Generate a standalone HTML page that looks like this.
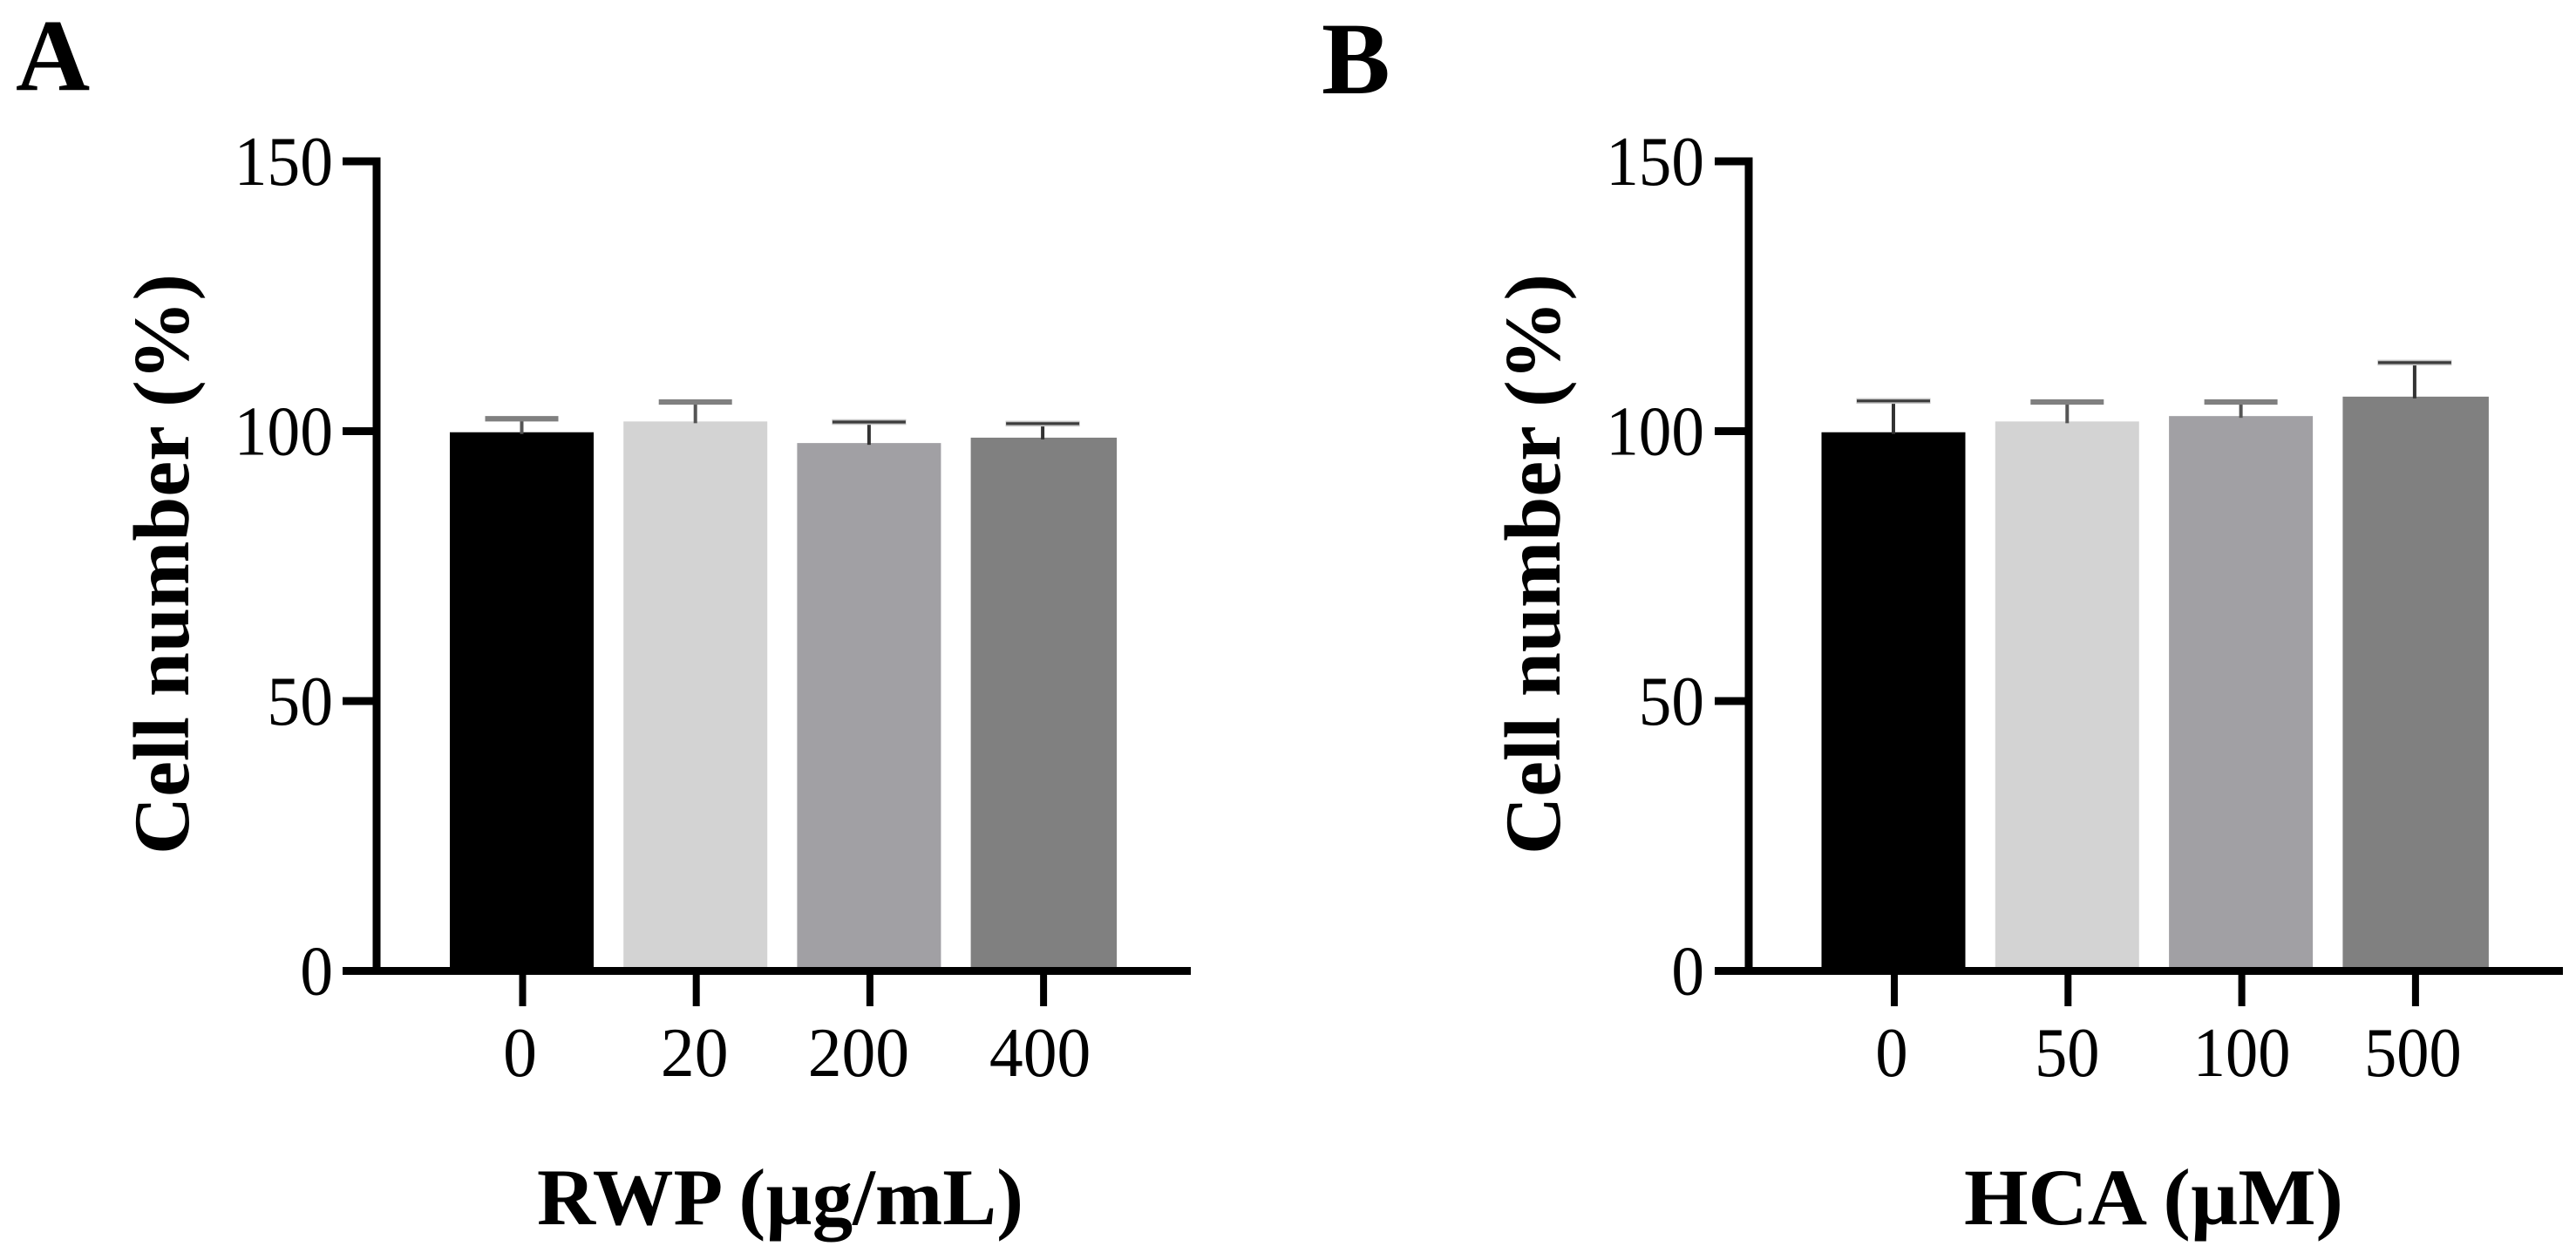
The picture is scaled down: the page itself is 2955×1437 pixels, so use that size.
<!DOCTYPE html>
<html lang="en">
<head>
<meta charset="utf-8">
<title>Cell number bar charts</title>
<style>
  html, body { margin: 0; padding: 0; background: #fff; }
  svg { display: block; font-family: "Liberation Serif", serif; }
  .tick-label { font-size: 80px; fill: #000; }
  .axis-title { font-size: 91px; font-weight: bold; fill: #000; }
  .x-title { font-size: 92px; }
  .panel-letter { font-size: 118px; font-weight: bold; fill: #000; }
</style>
</head>
<body>
<svg id="figure" xmlns="http://www.w3.org/2000/svg" width="2955" height="1437" viewBox="0 0 2955 1437">
  <rect x="0" y="0" width="2955" height="1437" fill="#fff"/>
  <text class="panel-letter" x="18" y="103">A</text>
  <text class="panel-letter" x="1516" y="107">B</text>
  <g id="panel-a">
    <text class="axis-title" transform="translate(216,647) rotate(-90)" text-anchor="middle" textLength="666" lengthAdjust="spacingAndGlyphs">Cell number (%)</text>
    <text class="axis-title x-title" x="895" y="1404" text-anchor="middle" textLength="558" lengthAdjust="spacingAndGlyphs">RWP (µg/mL)</text>
  </g>
  <g id="panel-b">
    <text class="axis-title" transform="translate(1789,647) rotate(-90)" text-anchor="middle" textLength="666" lengthAdjust="spacingAndGlyphs">Cell number (%)</text>
    <text class="axis-title x-title" x="2470.5" y="1404" text-anchor="middle" textLength="435" lengthAdjust="spacingAndGlyphs">HCA (µM)</text>
  </g>
</svg>
<script>
// Chart data
const yTickValues = [0, 50, 100, 150];
const categoriesA = ["0", "20", "200", "400"];
const valuesA = [99.8, 101.8, 97.8, 98.8];
const errorTopsA = [102.3, 105.4, 101.7, 101.4];
const categoriesB = ["0", "50", "100", "500"];
const valuesB = [99.8, 101.8, 102.8, 106.4];
const errorTopsB = [105.6, 105.4, 105.4, 112.7];
const barColors = ["#000000", "#d3d3d3", "#a1a0a4", "#808080"];

// Layout (geometry only)
const layoutA = {
  key: "panel-a", axisX: 432, tickLeft: 393, axisRight: 1366,
  firstCenter: 598.5, step: 199.2, barWidth: 165, lastBarExtra: 2.5,
  yLabelX: 382, yLabelScale: 0.945, xLabelScale: 0.97, labelNudge: [-3, -2, -13, -4],
  capStyles: ["soft", "soft", "sharp", "sharp"]
};
const layoutB = {
  key: "panel-b", axisX: 2006, tickLeft: 1967, axisRight: 2940,
  firstCenter: 2172, step: 199.3, barWidth: 165, lastBarExtra: 2.5,
  yLabelX: 1955, yLabelScale: 0.94, xLabelScale: 0.93, labelNudge: [-3, -1, 0, -3],
  capStyles: ["sharp", "soft", "soft", "sharp"]
};

const Y_ZERO = 1113.5;
const Y_PER_UNIT = 6.19;
const AXIS_WIDTH = 9;
const SVG_NS = "http://www.w3.org/2000/svg";

function yScale(v) { return Y_ZERO - v * Y_PER_UNIT; }
function xScale(layout, i) { return layout.firstCenter + i * layout.step; }

function make(tag, attrs, parent) {
  const node = document.createElementNS(SVG_NS, tag);
  for (const k in attrs) node.setAttribute(k, attrs[k]);
  parent.appendChild(node);
  return node;
}

function drawPanel(layout, categories, values, errorTops) {
  const root = document.getElementById(layout.key);
  const yMax = yTickValues[yTickValues.length - 1];

  values.forEach(function (v, i) {
    const cx = xScale(layout, i);
    const extra = i === values.length - 1 ? layout.lastBarExtra : 0;
    const bar = make("rect", {
      x: cx - layout.barWidth / 2, y: yScale(v),
      width: layout.barWidth + extra, height: Y_ZERO - yScale(v),
      fill: barColors[i]
    }, root);
    
    

    const top = yScale(errorTops[i]);
    const soft = layout.capStyles[i] === "soft";
    const stem = make("line", {
      x1: cx, x2: cx, y1: yScale(v) + 2, y2: top,
      stroke: soft ? "#555" : "#333", "stroke-width": 4
    }, root);
    
    

    if (!soft) {
      const halo = make("line", {
        x1: cx - 42.5, x2: cx + 42.5, y1: top, y2: top,
        stroke: "#c6c6c6", "stroke-width": 6.5
      }, root);
      
      
    }
    const cap = make("line", {
      x1: cx - 42, x2: cx + 42, y1: top, y2: top,
      stroke: soft ? "#808080" : "#3c3c3c", "stroke-width": soft ? 6.2 : 3.2
    }, root);
    
    
  });

  const yAxis = make("line", {
    x1: layout.axisX, x2: layout.axisX,
    y1: yScale(yMax) - 4.5, y2: Y_ZERO,
    stroke: "#000", "stroke-width": AXIS_WIDTH
  }, root);
  
  

  const xAxis = make("line", {
    x1: layout.tickLeft, x2: layout.axisRight,
    y1: Y_ZERO, y2: Y_ZERO,
    stroke: "#000", "stroke-width": AXIS_WIDTH
  }, root);
  
  

  yTickValues.forEach(function (t) {
    const y = yScale(t);
    const tick = make("line", {
      x1: layout.tickLeft, x2: layout.axisX, y1: y, y2: y,
      stroke: "#000", "stroke-width": AXIS_WIDTH
    }, root);
    
    

    const label = make("text", {
      transform: "translate(" + layout.yLabelX + "," + (y + 27) + ") scale(" + layout.yLabelScale + ",1)",
      "text-anchor": "end", "class": "tick-label"
    }, root);
    label.textContent = String(t);
    
    
  });

  categories.forEach(function (c, i) {
    const cx = xScale(layout, i) + 1;
    const tick = make("line", {
      x1: cx, x2: cx, y1: Y_ZERO, y2: 1154,
      stroke: "#000", "stroke-width": 8
    }, root);
    
    

    const label = make("text", {
      transform: "translate(" + (cx + layout.labelNudge[i]) + ",1234) scale(" + layout.xLabelScale + ",1)",
      "text-anchor": "middle", "class": "tick-label"
    }, root);
    label.textContent = c;
    
    
  });
}

drawPanel(layoutA, categoriesA, valuesA, errorTopsA);
drawPanel(layoutB, categoriesB, valuesB, errorTopsB);
</script>
</body>
</html>
